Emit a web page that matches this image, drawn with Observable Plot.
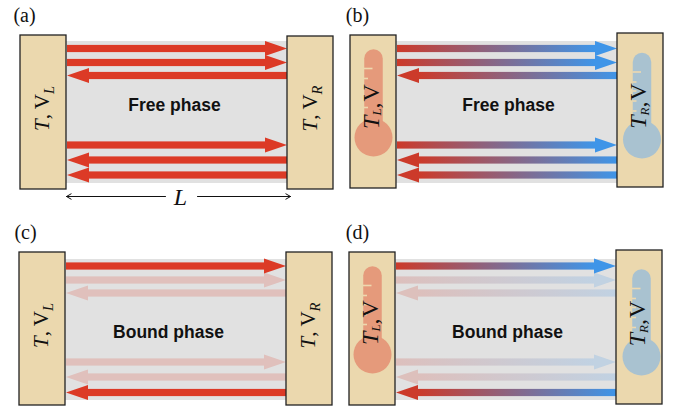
<!DOCTYPE html>
<html><head><meta charset="utf-8">
<script src="https://cdn.jsdelivr.net/npm/d3@7"></script>
<script src="https://cdn.jsdelivr.net/npm/@observablehq/plot@0.6"></script>
<style>html,body{margin:0;padding:0;background:#fff}svg{display:block}</style>
</head><body><div id="chart"></div>
<script>
const panelNames = ["(a)", "(b)", "(c)", "(d)"];
const panelLabelX = [24, 357, 25, 357];
const panelLabelY = [15, 15, 232, 232];
const phaseNames = ["Free phase", "Free phase", "Bound phase", "Bound phase"];
const phaseX = [174, 508, 168, 507];
const phaseY = [105, 105, 332, 332];
const leftEdge = [66, 396, 65, 395];
const rightEdge = [287, 617, 286, 616];
const blockWidth = 46;
const leftTop = [35, 35, 252, 252];
const leftBottom = [189, 188, 405, 405];
const rightTop = [36, 33, 252, 250];
const rightBottom = [189, 187, 405, 404];
const greyTop = [41, 41, 259, 259];
const greyBottom = [183, 183, 400, 400];
const leftLabels = ["T, V_L", "T_L, V", "T, V_L", "T_L, V"];
const rightLabels = ["T, V_R", "T_R, V", "T, V_R", "T_R, V"];
const leftLabelX = [42, 370.5, 41, 369.5];
const leftLabelY = [108, 106, 325, 322];
const rightLabelX = [310, 638, 308, 637];
const rightLabelY = [108, 105.5, 325, 323];
const laneY = [[48.5, 62.5, 75.5, 145, 160, 175], [48.5, 62.5, 75.5, 145, 160, 175],
               [266, 280, 293, 362, 377, 392.5], [266, 280, 293, 362, 377, 392.5]];
const laneDirection = [1, 1, -1, 1, -1, -1];
const freeStrength = [1, 1, 1, 1, 1, 1];
const boundStrength = [1, 0.2, 0.2, 0.2, 0.2, 1];
const strengths = [freeStrength, freeStrength, boundStrength, boundStrength];
const thermoX = [373, 641.5, 372, 641];
const thermoTop = [58, 61.5, 275, 278];
const thermoBulbY = [137, 139, 354, 356];
const tickOffsets = [10, 20, 29, 39, 49];
const headLength = 22, headHalf = 7.5, shaftHalf = 3.6;

const RED = "#dc3a26", RED2 = "#cc3a2a", BLUE = "#3f95e8";
const panels = panelNames.map((name, i) => ({i, name}));
const arrows = panels.flatMap(({i}) => laneY[i].map((y, k) => ({
  panel: i, y, dir: laneDirection[k], strength: strengths[i][k],
  x0: leftEdge[i] + 1, x1: rightEdge[i], id: `${i}-${k}`, gradient: i % 2 === 1
})));
const shafts = arrows.map(a => ({...a,
  xa: a.dir > 0 ? a.x0 : a.x0 + headLength,
  xb: a.dir > 0 ? a.x1 - headLength : a.x1,
  paint: a.gradient ? "url(#rb)" : RED}));
const heads = arrows.flatMap(a => {
  const base = a.dir > 0 ? a.x1 - headLength : a.x0 + headLength;
  const tip = a.dir > 0 ? a.x1 : a.x0;
  const paint = a.gradient ? (a.dir > 0 ? BLUE : RED2) : RED;
  return [{id: a.id, x: base, y1: a.y - headHalf, y2: a.y + headHalf, paint, strength: a.strength},
          {id: a.id, x: tip, y1: a.y, y2: a.y, paint, strength: a.strength}];
});
const blocks = panels.flatMap(({i}) => [
  {x1: leftEdge[i] - blockWidth, x2: leftEdge[i], y1: leftTop[i], y2: leftBottom[i]},
  {x1: rightEdge[i], x2: rightEdge[i] + blockWidth, y1: rightTop[i], y2: rightBottom[i]}]);
const thermos = thermoX.map((x, i) => ({x, top: thermoTop[i], bulb: thermoBulbY[i],
  colour: i % 2 === 0 ? "#e59a7b" : "#a9c2d0"}));
const ticks = thermos.flatMap((t) => tickOffsets.map((o, k) => ({
  y: t.top + o, x1: t.x - 9.5, x2: t.x - (k === 0 ? 1 : 5.5)})));
const blockTexts = panels.flatMap(({i}) => [
  {x: leftLabelX[i], y: leftLabelY[i], t: leftLabels[i]},
  {x: rightLabelX[i], y: rightLabelY[i], t: rightLabels[i]}]);

const serif = "Liberation Serif", sans = "Liberation Sans";
const chart = Plot.plot({
  width: 673, height: 409, margin: 0,
  x: {domain: [0, 673], range: [0, 673], axis: null},
  y: {domain: [0, 409], range: [0, 409], axis: null},
  color: {type: "identity"},
  style: {background: "#fff"},
  marks: [
    Plot.rect(panels, {x1: d => leftEdge[d.i], x2: d => rightEdge[d.i], y1: d => greyTop[d.i], y2: d => greyBottom[d.i], fill: "#e1e1e1"}),
    Plot.rect(shafts, {x1: "xa", x2: "xb", y1: d => d.y - shaftHalf, y2: d => d.y + shaftHalf, fill: "paint", fillOpacity: "strength"}),
    Plot.areaY(heads, {x: "x", y1: "y1", y2: "y2", z: "id", fill: "paint", fillOpacity: "strength"}),
    Plot.rect(blocks, {x1: "x1", x2: "x2", y1: "y1", y2: "y2", fill: "#ebd8ae", stroke: "#222", strokeWidth: 1.3}),
    Plot.link(thermos, {x1: "x", x2: "x", y1: "top", y2: "bulb", stroke: "colour", strokeWidth: 18.5, strokeLinecap: "round"}),
    Plot.dot(thermos, {x: "x", y: "bulb", r: 19, fill: "colour"}),
    Plot.link(ticks, {x1: "x1", x2: "x2", y1: "y", y2: "y", stroke: "#eed9b0", strokeWidth: 1.6}),
    Plot.text(blockTexts, {x: "x", y: "y", text: "t", rotate: -90, fontFamily: serif, fontSize: 21, fill: "#111"}),
    Plot.text(panels, {x: d => phaseX[d.i], y: d => phaseY[d.i], text: d => phaseNames[d.i], fontFamily: sans, fontWeight: "bold", fontSize: 17.5, fill: "#111"}),
    Plot.text(panels, {x: d => panelLabelX[d.i], y: d => panelLabelY[d.i], text: "name", fontFamily: serif, fontSize: 20, fill: "#111"}),
    Plot.arrow([{a: 165, b: 66}, {a: 197, b: 290}], {x1: "a", x2: "b", y1: () => 196, y2: () => 196, stroke: "#111", strokeWidth: 1, headLength: 8}),
    Plot.text(["L"], {x: () => 180, y: () => 197, text: d => d, fontFamily: serif, fontStyle: "italic", fontSize: 24, fill: "#111"})
  ]
});
const ns = "http://www.w3.org/2000/svg";
const defs = document.createElementNS(ns, "defs");
defs.innerHTML = `<linearGradient id="rb" x1="0" x2="1" y1="0" y2="0"><stop offset="0" stop-color="${RED2}"/><stop offset="1" stop-color="${BLUE}"/></linearGradient>`;
chart.insertBefore(defs, chart.firstChild);
chart.querySelectorAll("text").forEach(el => {
  const m = el.textContent.match(/^T(_[LR])?, V(_[LR])?$/);
  if (!m) return;
  const sub = (s, size, dy) => `<tspan font-style="italic" font-size="${size}" dy="${dy}em">${s.slice(1)}</tspan>`;
  if (m[1]) {
    el.setAttribute("font-size", 24);
    el.innerHTML = `<tspan font-style="italic">T</tspan>` + sub(m[1], 13, 0.2) + `<tspan dy="-0.1em">,</tspan><tspan dx="1">V</tspan>`;
  } else {
    el.innerHTML = `<tspan font-style="italic">T</tspan><tspan>, V</tspan>` + sub(m[2], 14.5, 0.3);
  }
});
document.getElementById("chart").appendChild(chart);
</script></body></html>
